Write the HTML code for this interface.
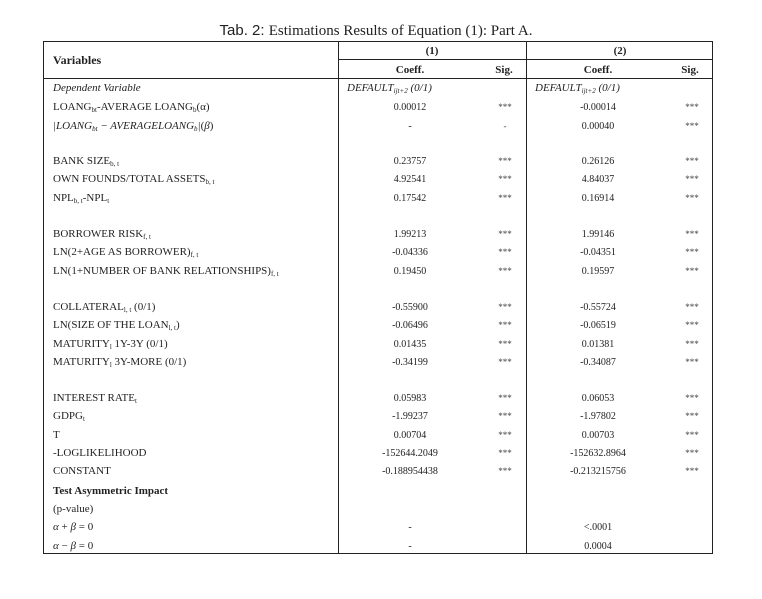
<!DOCTYPE html>
<html><head><meta charset="utf-8"><style>
body{margin:0;width:762px;height:599px;background:#fff;font-family:"Liberation Serif",serif;color:#222;position:relative;overflow:hidden}
.t{position:absolute;white-space:nowrap;font-size:11px;line-height:12px}
.n{font-size:10px}
.s{font-size:9px;color:#444}
.c{transform:translateX(-50%)}
.l{position:absolute;background:#222}
i{font-style:italic}
sub{font-size:7px;vertical-align:-2px;line-height:0}
b{font-weight:bold}
</style></head><body>
<div class="t c" style="left:376px;top:23px;font-size:15px;line-height:16px;font-family:'Liberation Sans',sans-serif">Tab. 2: <span style="font-family:'Liberation Serif',serif">Estimations Results of Equation (1): Part A.</span></div>
<div class="l" style="left:43px;top:41px;width:670px;height:1px"></div>
<div class="l" style="left:43px;top:553px;width:670px;height:1px"></div>
<div class="l" style="left:43px;top:41px;width:1px;height:513px"></div>
<div class="l" style="left:712px;top:41px;width:1px;height:513px"></div>
<div class="l" style="left:338px;top:41px;width:1px;height:513px"></div>
<div class="l" style="left:526px;top:41px;width:1px;height:513px"></div>
<div class="l" style="left:338px;top:59px;width:375px;height:1px"></div>
<div class="l" style="left:43px;top:78px;width:670px;height:1px"></div>
<div class="t" style="left:53px;top:54px;font-size:12px"><b>Variables</b></div>
<div class="t c" style="left:432px;top:45px"><b>(1)</b></div>
<div class="t c" style="left:620px;top:45px"><b>(2)</b></div>
<div class="t c" style="left:410px;top:64px"><b>Coeff.</b></div>
<div class="t c" style="left:504px;top:64px"><b>Sig.</b></div>
<div class="t c" style="left:598px;top:64px"><b>Coeff.</b></div>
<div class="t c" style="left:690px;top:64px"><b>Sig.</b></div>
<div class="t" style="left:347px;top:82px"><i>DEFAULT<sub>ijt+2</sub> (0/1)</i></div>
<div class="t" style="left:535px;top:82px"><i>DEFAULT<sub>ijt+2</sub> (0/1)</i></div>
<div id="rows"></div>
<script>
const R=[
[82,'<i>Dependent Variable</i>'],
[101,'LOANG<sub>bt</sub>-AVERAGE LOANG<sub>b</sub>(α)','0.00012','***','-0.00014','***'],
[120,'<i>|LOANG<sub>bt</sub> − AVERAGELOANG<sub>b</sub>|</i>(<i>β</i>)','-','-','0.00040','***'],
[155,'BANK SIZE<sub>b, t</sub>','0.23757','***','0.26126','***'],
[173,'OWN FOUNDS/TOTAL ASSETS<sub>b, t</sub>','4.92541','***','4.84037','***'],
[192,'NPL<sub>b, t</sub>-NPL<sub>t</sub>','0.17542','***','0.16914','***'],
[228,'BORROWER RISK<sub>f, t</sub>','1.99213','***','1.99146','***'],
[246,'LN(2+AGE AS BORROWER)<sub>f, t</sub>','-0.04336','***','-0.04351','***'],
[265,'LN(1+NUMBER OF BANK RELATIONSHIPS)<sub>f, t</sub>','0.19450','***','0.19597','***'],
[301,'COLLATERAL<sub>l, t</sub> (0/1)','-0.55900','***','-0.55724','***'],
[319,'LN(SIZE OF THE LOAN<sub>l, t</sub>)','-0.06496','***','-0.06519','***'],
[338,'MATURITY<sub>l</sub> 1Y-3Y (0/1)','0.01435','***','0.01381','***'],
[356,'MATURITY<sub>l</sub> 3Y-MORE (0/1)','-0.34199','***','-0.34087','***'],
[392,'INTEREST RATE<sub>t</sub>','0.05983','***','0.06053','***'],
[410,'GDPG<sub>t</sub>','-1.99237','***','-1.97802','***'],
[429,'T','0.00704','***','0.00703','***'],
[447,'-LOGLIKELIHOOD','-152644.2049','***','-152632.8964','***'],
[465,'CONSTANT','-0.188954438','***','-0.213215756','***'],
[485,'<b>Test Asymmetric Impact</b>'],
[503,'(p-value)'],
[521,'<i>α</i> + <i>β</i> = 0','-','','&lt;.0001',''],
[540,'<i>α</i> − <i>β</i> = 0','-','','0.0004','']];
let h='';
for(const r of R){
 h+=`<div class="t" style="left:53px;top:${r[0]}px">${r[1]}</div>`;
 if(r.length>2){
  h+=`<div class="t n c" style="left:410px;top:${r[0]+1}px">${r[2]}</div>`;
  h+=`<div class="t s c" style="left:505px;top:${r[0]}px">${r[3]}</div>`;
  h+=`<div class="t n c" style="left:598px;top:${r[0]+1}px">${r[4]}</div>`;
  h+=`<div class="t s c" style="left:692px;top:${r[0]}px">${r[5]}</div>`;
 }
}
document.getElementById('rows').innerHTML=h;
</script>
</body></html>
